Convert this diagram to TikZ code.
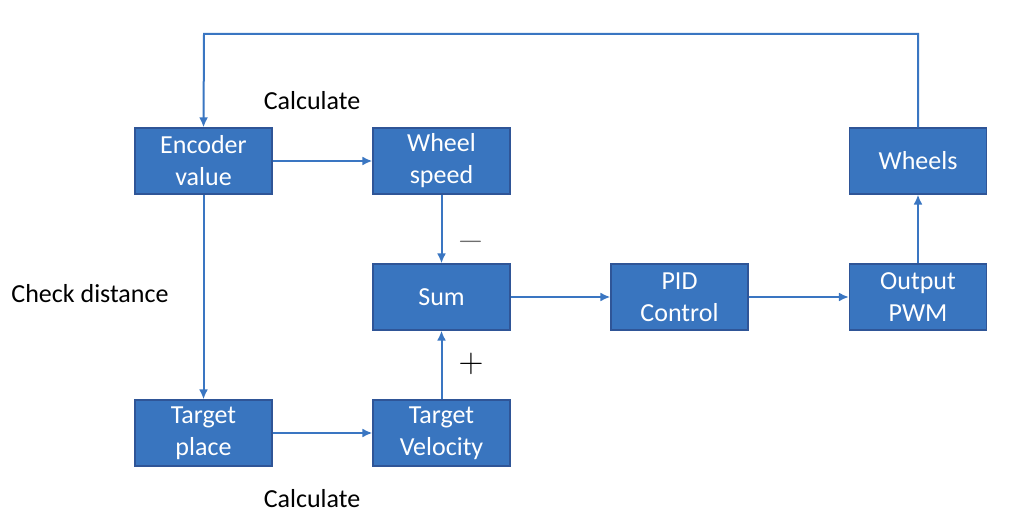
\documentclass[tikz,border=0pt]{standalone}
\usepackage{fontspec}
\setmainfont{Carlito}
\usetikzlibrary{arrows.meta}
\definecolor{boxblue}{RGB}{57,117,191}
\definecolor{edgeblue}{RGB}{47,85,151}
\definecolor{linkblue}{RGB}{58,118,194}
\definecolor{signgrey}{RGB}{110,110,110}

\tikzset{
  block/.style={draw=edgeblue, line width=0.6pt, fill=boxblue, text=white,
    minimum width=68.5pt, minimum height=33pt, align=center, inner sep=0pt,
    font=\fontsize{13}{16}\selectfont},
  link/.style={draw=linkblue, line width=1pt, -{Latex[length=5pt,width=4.5pt]}},
  note/.style={font=\fontsize{13}{16}\selectfont},
  sign/.style={font=\fontsize{17}{20}\selectfont}
}

\begin{document}
\begin{tikzpicture}[x=0.5pt, y=-0.5pt]
    \useasboundingbox (0,0) rectangle (1016,522);
    % blocks
    \node[block] (enc)    at (203.5,161) {Encoder\\value};
    \node[block] (speed)  at (441.5,161) {Wheel\\speed};
    \node[block] (sum)    at (441.5,297) {Sum};
    \node[block] (pid)    at (679.5,297) {PID\\Control};
    \node[block] (pwm)    at (918,297)   {Output\\PWM};
    \node[block] (wheels) at (918,161)   {Wheels};
    \node[block] (place)  at (203.5,433) {Target\\place};
    \node[block] (vel)    at (441.5,433) {Target\\Velocity};
    % labels
    \node[note] (calctop) at (312,101) {Calculate};
    \node[note] (check)   at (90,294)  {Check distance};
    \node[note] (calcbot) at (312,499) {Calculate};
    \node[sign, text=signgrey] (minus) at (471,242) {$-$};
    \node[sign] (plus) at (471,364) {$+$};
    % connectors
    \coordinate (fb) at (204,34);
    \draw[link] (enc) -- (speed);
    \draw[link] (speed) -- (sum);
    \draw[link] (vel) -- (sum);
    \draw[link] (sum) -- (pid);
    \draw[link] (pid) -- (pwm);
    \draw[link] (pwm) -- (wheels);
    \draw[link] (enc) -- (place);
    \draw[link] (place) -- (vel);
    \draw[link] (wheels.north) |- (fb) -- (enc.north);
\end{tikzpicture}
\end{document}
